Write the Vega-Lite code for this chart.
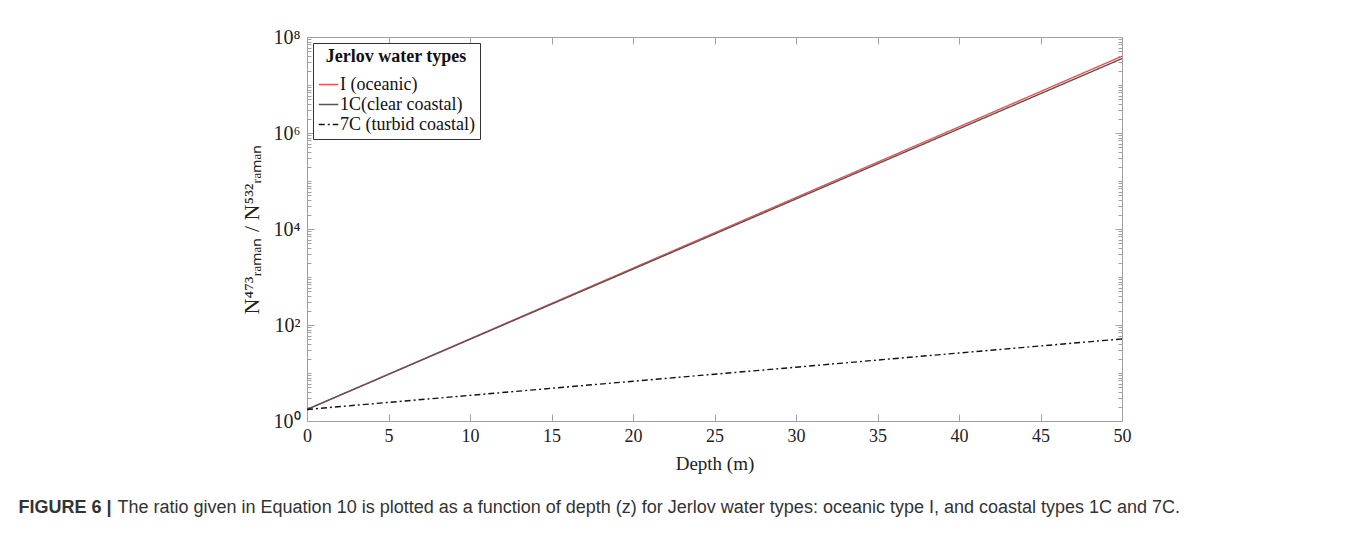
{
  "$schema": "https://vega.github.io/schema/vega-lite/v6.json",
  "width": 815,
  "height": 384,
  "autosize": {"type": "none"},
  "padding": {"left": 307, "top": 37, "right": 236, "bottom": 119},
  "background": "white",
  "data": {
    "values": [
      {"depth": 0, "ratio": 1.74, "type": "I (oceanic)"},
      {"depth": 5, "ratio": 9.46, "type": "I (oceanic)"},
      {"depth": 10, "ratio": 51.5, "type": "I (oceanic)"},
      {"depth": 15, "ratio": 281, "type": "I (oceanic)"},
      {"depth": 20, "ratio": 1528, "type": "I (oceanic)"},
      {"depth": 25, "ratio": 8318, "type": "I (oceanic)"},
      {"depth": 30, "ratio": 45290, "type": "I (oceanic)"},
      {"depth": 35, "ratio": 246600, "type": "I (oceanic)"},
      {"depth": 40, "ratio": 1343000, "type": "I (oceanic)"},
      {"depth": 45, "ratio": 7310000, "type": "I (oceanic)"},
      {"depth": 50, "ratio": 39800000, "type": "I (oceanic)"},
      {"depth": 0, "ratio": 1.74, "type": "1C(clear coastal)"},
      {"depth": 5, "ratio": 9.35, "type": "1C(clear coastal)"},
      {"depth": 10, "ratio": 50.4, "type": "1C(clear coastal)"},
      {"depth": 15, "ratio": 271, "type": "1C(clear coastal)"},
      {"depth": 20, "ratio": 1459, "type": "1C(clear coastal)"},
      {"depth": 25, "ratio": 7852, "type": "1C(clear coastal)"},
      {"depth": 30, "ratio": 42270, "type": "1C(clear coastal)"},
      {"depth": 35, "ratio": 227500, "type": "1C(clear coastal)"},
      {"depth": 40, "ratio": 1225000, "type": "1C(clear coastal)"},
      {"depth": 45, "ratio": 6590000, "type": "1C(clear coastal)"},
      {"depth": 50, "ratio": 35500000, "type": "1C(clear coastal)"},
      {"depth": 0, "ratio": 1.74, "type": "7C (turbid coastal)"},
      {"depth": 5, "ratio": 2.44, "type": "7C (turbid coastal)"},
      {"depth": 10, "ratio": 3.42, "type": "7C (turbid coastal)"},
      {"depth": 15, "ratio": 4.80, "type": "7C (turbid coastal)"},
      {"depth": 20, "ratio": 6.73, "type": "7C (turbid coastal)"},
      {"depth": 25, "ratio": 9.44, "type": "7C (turbid coastal)"},
      {"depth": 30, "ratio": 13.2, "type": "7C (turbid coastal)"},
      {"depth": 35, "ratio": 18.6, "type": "7C (turbid coastal)"},
      {"depth": 40, "ratio": 26.1, "type": "7C (turbid coastal)"},
      {"depth": 45, "ratio": 36.6, "type": "7C (turbid coastal)"},
      {"depth": 50, "ratio": 51.3, "type": "7C (turbid coastal)"}
    ]
  },
  "layer": [
    {
      "mark": {"type": "line", "strokeWidth": 1.4},
      "encoding": {
        "x": {
          "field": "depth",
          "type": "quantitative",
          "scale": {"domain": [0, 50], "nice": false},
          "axis": {
            "orient": "bottom",
            "title": "Depth (m)",
            "values": [0, 5, 10, 15, 20, 25, 30, 35, 40, 45, 50],
            "tickSize": -7,
            "labelPadding": 13,
            "titlePadding": 9,
            "labelFlush": false
          }
        },
        "y": {
          "field": "ratio",
          "type": "quantitative",
          "scale": {"type": "log", "domain": [1, 100000000], "nice": false},
          "axis": {
            "orient": "left",
            "title": "N⁴⁷³ᵣₐₘₐₙ / N⁵³²ᵣₐₘₐₙ",
            "titleFontSize": 22,
            "titlePadding": 10,
            "values": [1,2,3,4,5,6,7,8,9,10,20,30,40,50,60,70,80,90,100,200,300,400,500,600,700,800,900,1000,2000,3000,4000,5000,6000,7000,8000,9000,10000,20000,30000,40000,50000,60000,70000,80000,90000,100000,200000,300000,400000,500000,600000,700000,800000,900000,1000000,2000000,3000000,4000000,5000000,6000000,7000000,8000000,9000000,10000000,20000000,30000000,40000000,50000000,60000000,70000000,80000000,90000000,100000000],
            "labelExpr": "datum.value==1?'10⁰':datum.value==100?'10²':datum.value==10000?'10⁴':datum.value==1000000?'10⁶':datum.value==100000000?'10⁸':''",
            "tickSize": {"condition": {"test": "datum.value==1||datum.value==100||datum.value==10000||datum.value==1000000||datum.value==100000000", "value": -7}, "value": -4},
            "labelPadding": 14,
            "labelFontSize": 20,
            "labelOverlap": false,
            "labelFlush": false
          }
        },
        "color": {
          "field": "type",
          "type": "nominal",
          "scale": {"domain": ["I (oceanic)", "1C(clear coastal)", "7C (turbid coastal)"], "range": ["#ee5050", "#555555", "#111111"]},
          "legend": {"title": "Jerlov water types"}
        },
        "strokeDash": {
          "field": "type",
          "type": "nominal",
          "scale": {"domain": ["I (oceanic)", "1C(clear coastal)", "7C (turbid coastal)"], "range": [[1, 0], [1, 0], [6, 3, 2, 3]]},
          "legend": {"title": "Jerlov water types"}
        }
      }
    },
    {
      "mark": {"type": "point", "opacity": 0},
      "encoding": {
        "x": {
          "field": "depth",
          "type": "quantitative",
          "axis": {
            "orient": "top",
            "title": "FIGURE 6 |",
            "titleFont": "Liberation Sans",
            "titleFontWeight": "bold",
            "titleFontSize": 18,
            "titleColor": "#333333",
            "titleAlign": "left",
            "titleAnchor": "start",
            "titleBaseline": "alphabetic",
            "titleAngle": 0,
            "titleX": -289,
            "titleY": 475,
            "labels": false,
            "values": [0, 5, 10, 15, 20, 25, 30, 35, 40, 45, 50],
            "tickSize": -7
          }
        },
        "y": {
          "field": "ratio",
          "type": "quantitative",
          "axis": {
            "orient": "right",
            "title": "The ratio given in Equation 10 is plotted as a function of depth (z) for Jerlov water types: oceanic type I, and coastal types 1C and 7C.",
            "titleFont": "Liberation Sans",
            "titleFontWeight": "normal",
            "titleFontSize": 18,
            "titleColor": "#333333",
            "titleAlign": "left",
            "titleAnchor": "start",
            "titleBaseline": "alphabetic",
            "titleAngle": 0,
            "titleX": -1005,
            "titleY": 475,
            "titleLimit": 1300,
            "labels": false,
            "values": [1,2,3,4,5,6,7,8,9,10,20,30,40,50,60,70,80,90,100,200,300,400,500,600,700,800,900,1000,2000,3000,4000,5000,6000,7000,8000,9000,10000,20000,30000,40000,50000,60000,70000,80000,90000,100000,200000,300000,400000,500000,600000,700000,800000,900000,1000000,2000000,3000000,4000000,5000000,6000000,7000000,8000000,9000000,10000000,20000000,30000000,40000000,50000000,60000000,70000000,80000000,90000000,100000000],
            "tickSize": {"condition": {"test": "datum.value==1||datum.value==100||datum.value==10000||datum.value==1000000||datum.value==100000000", "value": -7}, "value": -4}
          }
        }
      }
    }
  ],
  "resolve": {"axis": {"x": "independent", "y": "independent"}},
  "config": {
    "view": {"stroke": null},
    "axis": {
      "grid": false,
      "domainColor": "#a0a0a0",
      "tickColor": "#a0a0a0",
      "labelFont": "Liberation Serif",
      "titleFont": "Liberation Serif",
      "labelFontSize": 18,
      "titleFontSize": 19,
      "titleFontWeight": "normal",
      "labelColor": "#222222",
      "titleColor": "#222222"
    },
    "legend": {
      "orient": "top-left",
      "offset": 6,
      "strokeColor": "#333333",
      "fillColor": "white",
      "padding": 5,
      "titleFont": "Liberation Serif",
      "titleFontSize": 18,
      "titleFontWeight": "bold",
      "titleColor": "#111111",
      "titleAnchor": "middle",
      "titlePadding": 8,
      "labelFont": "Liberation Serif",
      "labelFontSize": 18,
      "labelColor": "#111111",
      "labelOffset": 1,
      "symbolType": "stroke",
      "symbolSize": 380,
      "symbolStrokeWidth": 1.4,
      "rowPadding": 0
    }
  }
}
